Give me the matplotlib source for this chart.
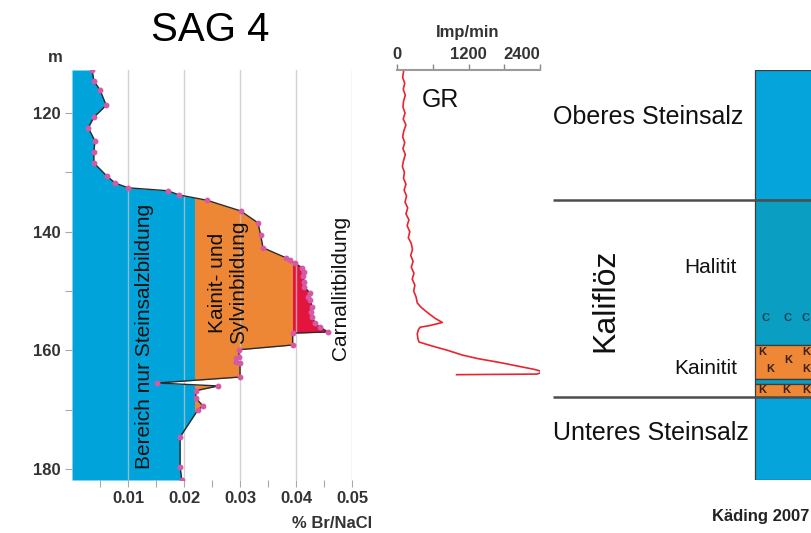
import numpy as np
import matplotlib.pyplot as plt
from matplotlib.patches import Rectangle

plt.rcParams['font.family'] = ['Liberation Sans', 'DejaVu Sans']

# Br/NaCl profile of SAG 4 (depth in m, value in %)
br_depth = [112.75, 114.6, 116.1, 118.7, 120.7, 122.5, 124.7, 126.6, 128.4,
            130.6, 131.8, 132.6, 133.1, 133.8, 134.7, 136.5, 138.5, 140.6,
            142.7, 144.4, 144.8, 145.3, 146.1, 146.8, 147.5, 148.4, 149.3,
            150.3, 151.0, 151.5, 152.7, 153.5, 154.4, 155.4, 156.1, 156.9,
            157.1, 159.1, 159.9, 161.1, 161.3, 162.0, 162.1, 164.5, 165.5,
            166.0, 166.8, 168.0, 169.4, 170.0, 174.6, 179.6, 181.85]
br_value = [0.0036, 0.0039, 0.0050, 0.0061, 0.0039, 0.0029, 0.0041, 0.0039, 0.0039,
            0.0062, 0.0077, 0.0100, 0.0171, 0.0191, 0.0241, 0.0301, 0.0332, 0.0337,
            0.0341, 0.0382, 0.0389, 0.0398, 0.0411, 0.0414, 0.0412, 0.0415, 0.0414,
            0.0425, 0.0422, 0.0425, 0.0429, 0.0427, 0.0429, 0.0434, 0.0443, 0.0457,
            0.0394, 0.0394, 0.0298, 0.0298, 0.0293, 0.0293, 0.0300, 0.0300, 0.0152,
            0.0261, 0.0221, 0.0221, 0.0234, 0.0225, 0.0193, 0.0193, 0.0196]

# facies limits (% Br/NaCl)
lim_halite = 0.022
lim_kainite = 0.0394

# gamma ray log (depth in m, Imp/min)
gr_depth = [113.0, 114.0, 115.0, 116.0, 117.0, 118.0, 119.0, 120.0, 121.0, 122.0,
            123.0, 124.0, 125.0, 126.0, 127.0, 128.0, 129.0, 130.0, 131.0, 132.0,
            133.0, 134.0, 135.0, 136.0, 137.0, 138.0, 139.0, 140.0, 141.0, 142.0,
            143.0, 144.0, 145.0, 146.0, 147.0, 148.0, 149.0, 150.0, 151.0, 152.0,
            152.7, 153.3, 154.0, 154.6, 155.3, 155.8, 156.1, 156.5, 157.2, 158.0,
            158.6, 159.3, 160.0, 160.8, 161.4, 162.0, 162.6, 163.2, 163.6, 164.0,
            164.1]
gr_value = [110, 95, 130, 105, 140, 110, 100, 135, 105, 150,
            115, 95, 130, 100, 140, 110, 90, 125, 110, 150,
            120, 160, 135, 180, 150, 200, 170, 215, 190, 240,
            260, 230, 270, 240, 285, 255, 300, 280, 320, 340,
            400, 470, 560, 640, 760, 560, 390, 360, 340, 350,
            370, 600, 850, 1100, 1360, 1700, 2000, 2300, 2450, 2350,
            1000]

# lithology column
lith_top = [112.75, 134.66, 159.1, 164.8, 165.6, 167.9]
lith_bot = [134.66, 159.1, 164.8, 165.6, 167.9, 181.85]
lith_color = ['#05a4da', '#0a9ec3', '#ee8836', '#0a9ec3', '#ee8836', '#05a4da']
unit_bounds = [134.66, 167.9]

c_depth = [154.5, 154.5, 154.5]
c_pos = [212, 235, 253]
k_depth = [160.3, 163.1, 161.6, 160.3, 163.1, 166.7, 166.7, 166.7]
k_pos = [209, 217, 235, 253, 253, 209, 233, 253]

ylim = (181.85, 112.75)
W, H = 811, 533
bottom, height = 1 - 480 / H, 410 / H

fig = plt.figure(figsize=(8.11, 5.33), dpi=100)

# --- Br/NaCl panel
ax1 = fig.add_axes([72 / W, bottom, 280 / W, height])
fills = [('#00a4db', -1, lim_halite),
         ('#ee8735', lim_halite, lim_kainite),
         ('#e3153f', lim_kainite, 1)]
for col, lo, hi in fills:
    poly = ax1.fill_betweenx(br_depth, 0, br_value, color=col, lw=0, zorder=1)
    clip = Rectangle((lo, 100), hi - lo, 100, transform=ax1.transData)
    poly.set_clip_path(clip)

ax1.plot(br_value, br_depth, color='#2b2b2b', lw=1, zorder=3,
         marker='o', ms=3.2, mfc='#d45aa6', mec='#d45aa6')

ax1.set_xlim(0, 0.05)
ax1.set_ylim(*ylim)
ax1.set_xticks([0.01, 0.02, 0.03, 0.04, 0.05])
ax1.set_xticklabels(['0.01', '0.02', '0.03', '0.04', '0.05'])
ax1.set_xticks([0.005, 0.015, 0.025, 0.035, 0.045], minor=True)
ax1.set_yticks([120, 140, 160, 180])
ax1.set_yticks([130, 150, 170], minor=True)
ax1.set_axisbelow(False)
ax1.xaxis.grid(True, which='major', color='#c4c4c4', lw=1, alpha=0.75)
ax1.tick_params(which='both', direction='out', length=5, width=0.8,
                color='#a8a8a8', labelsize=12, labelcolor='#333333', pad=3)
for lab in ax1.get_xticklabels() + ax1.get_yticklabels():
    lab.set_fontweight('bold')
for s in ax1.spines.values():
    s.set_visible(False)

ax1.text(0.0130, 157.6, 'Bereich nur Steinsalzbildung', rotation=90,
         ha='center', va='center', fontsize=15, color='#111111', zorder=4)
ax1.text(0.0279, 148.6, 'Kainit- und\nSylvinbildung', rotation=90,
         ha='center', va='center', multialignment='center', fontsize=15,
         linespacing=1.15, color='#111111', zorder=4)
ax1.text(0.0479, 149.5, 'Carnallitbildung', rotation=90,
         ha='center', va='center', fontsize=15, color='#111111', zorder=4)

fig.text(210 / W, 1 - 30 / H, 'SAG 4', fontsize=29, ha='center', va='center')
fig.text(55 / W, 1 - 57 / H, 'm', fontsize=12, fontweight='bold',
         color='#333333', ha='center', va='center')
fig.text(372 / W, 1 - 524 / H, '% Br/NaCl', fontsize=12, fontweight='bold',
         color='#333333', ha='right', va='center')

# --- gamma ray panel
ax2 = fig.add_axes([397 / W, bottom, 143 / W, height])
ax2.plot(gr_value, gr_depth, color='#e8252e', lw=1.2)
ax2.set_xlim(0, 2400)
ax2.set_ylim(*ylim)
ax2.xaxis.tick_top()
ax2.set_xticks([0, 600, 1200, 1800, 2400])
ax2.set_xticklabels(['0', '', '1200', '', '2400'])
ax2.set_yticks([])
ax2.tick_params(axis='x', direction='out', length=4, width=1, color='#888888',
                labelsize=12, labelcolor='#333333', pad=2)
for lab in ax2.get_xticklabels():
    lab.set_fontweight('bold')
ax2.get_xticklabels()[-1].set_ha('right')
for side in ['left', 'right', 'bottom']:
    ax2.spines[side].set_visible(False)
ax2.spines['top'].set_color('#9a9a9a')
ax2.spines['top'].set_linewidth(1.5)
ax2.patch.set_alpha(0)
fig.text(468 / W, 1 - 33 / H, 'Imp/min', fontsize=12, fontweight='bold',
         color='#333333', ha='center', va='center')
fig.text(440 / W, 1 - 100 / H, 'GR', fontsize=18, ha='center', va='center',
         color='#111111')

# --- lithology column
ax3 = fig.add_axes([553 / W, bottom, 298 / W, height])
ax3.set_xlim(0, 298)
ax3.set_ylim(*ylim)
ax3.axis('off')
for top, bot, col in zip(lith_top, lith_bot, lith_color):
    ax3.add_patch(Rectangle((202, top), 200, bot - top, fc=col,
                            ec='#3c3c3c', lw=0.9, zorder=1))
for b in unit_bounds:
    ax3.plot([0, 298], [b, b], color='#4d4d4d', lw=1.8, zorder=3,
             solid_capstyle='butt')
for x, d in zip(c_pos, c_depth):
    ax3.text(x, d, 'C', fontsize=8, fontweight='bold', color='#1f3f4a',
             ha='center', va='center', zorder=4)
for x, d in zip(k_pos, k_depth):
    ax3.text(x, d, 'K', fontsize=8, fontweight='bold', color='#3a2010',
             ha='center', va='center', zorder=4)

ax3.text(0, 120.7, 'Oberes Steinsalz', fontsize=18, ha='left', va='center',
         color='#111111')
ax3.text(0, 173.9, 'Unteres Steinsalz', fontsize=18, ha='left', va='center',
         color='#111111')
ax3.text(52, 151.5, 'Kaliflöz', fontsize=23, rotation=90, ha='center',
         va='center', color='#111111')
ax3.text(184, 146.1, 'Halitit', fontsize=15, ha='right', va='center',
         color='#111111')
ax3.text(184, 163.0, 'Kainitit', fontsize=15, ha='right', va='center',
         color='#111111')

fig.text(809 / W, 1 - 517 / H, 'Käding 2007', fontsize=12, fontweight='bold',
         color='#222222', ha='right', va='center')

fig.savefig('out.png', dpi=100)
